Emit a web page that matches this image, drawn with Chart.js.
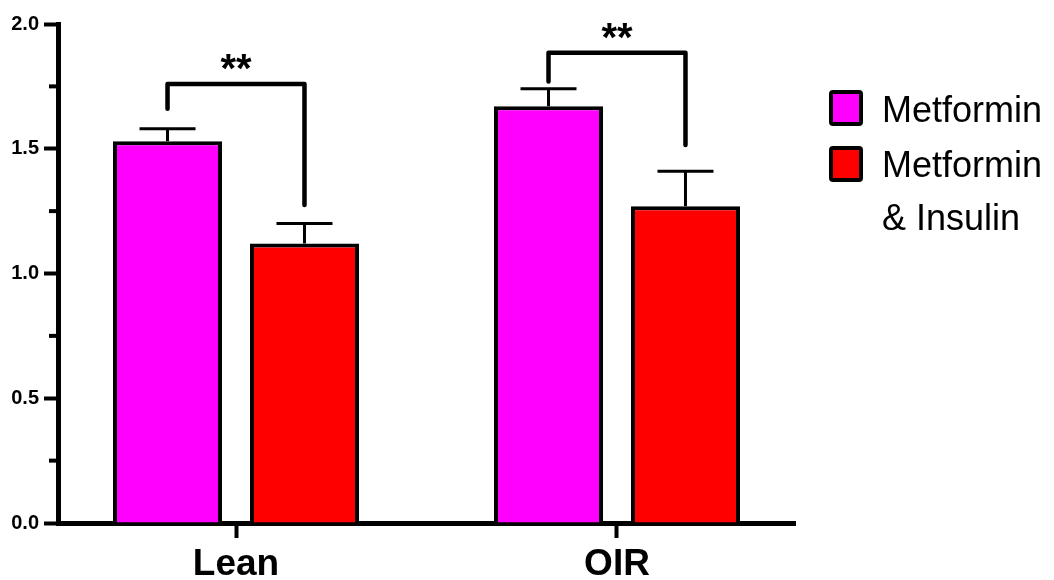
<!DOCTYPE html>
<html>
<head>
<meta charset="utf-8">
<script src="https://cdn.jsdelivr.net/npm/chart.js@4.4.1/dist/chart.umd.min.js"></script>
<style>
  html, body { margin: 0; padding: 0; background: #fff; }
  #wrap { width: 1054px; height: 580px; }
</style>
</head>
<body>
<div id="wrap"><canvas id="chart"></canvas></div>
<script>
const groups = ['Lean', 'OIR'];
const seriesNames = ['Metformin', 'Metformin\n& Insulin'];
const metformin = [1.53, 1.67];
const metforminInsulin = [1.12, 1.27];
const metforminErr = [0.05, 0.07];
const metforminInsulinErr = [0.08, 0.14];
const colors = ['#ff00ff', '#ff0000'];

// significance brackets, one per group (values in y units)
const bracketLeft = [1.66, 1.77];
const bracketTop = [1.76, 1.885];
const bracketRight = [1.275, 1.515];
const bracketText = ['**', '**'];

const yTicks = [0, 0.5, 1.0, 1.5, 2.0];

const font = '"Liberation Sans", Arial, sans-serif';
Chart.defaults.font.family = font;
Chart.defaults.color = '#000';

const errors = [metforminErr, metforminInsulinErr];

const extras = {
  id: 'extras',
  afterDatasetsDraw(chart) {
    const ctx = chart.ctx;
    const y = chart.scales.y;
    ctx.save();
    ctx.strokeStyle = '#000';
    // error bars
    ctx.lineWidth = 3;
    chart.data.datasets.forEach((ds, i) => {
      chart.getDatasetMeta(i).data.forEach((bar, j) => {
        const top = y.getPixelForValue(ds.data[j].y + errors[i][j]);
        ctx.beginPath();
        ctx.moveTo(bar.x, bar.y);
        ctx.lineTo(bar.x, top);
        ctx.moveTo(bar.x - 28, top);
        ctx.lineTo(bar.x + 28, top);
        ctx.stroke();
      });
    });
    // brackets
    ctx.lineWidth = 4.5;
    ctx.lineCap = 'round';
    ctx.lineJoin = 'round';
    groups.forEach((g, j) => {
      const a = chart.getDatasetMeta(0).data[j];
      const b = chart.getDatasetMeta(1).data[j];
      const t = y.getPixelForValue(bracketTop[j]);
      ctx.beginPath();
      ctx.moveTo(a.x, y.getPixelForValue(bracketLeft[j]));
      ctx.lineTo(a.x, t);
      ctx.lineTo(b.x, t);
      ctx.lineTo(b.x, y.getPixelForValue(bracketRight[j]));
      ctx.stroke();
      ctx.fillStyle = '#000';
      ctx.font = 'bold 40px ' + font;
      ctx.textAlign = 'center';
      ctx.textBaseline = 'alphabetic';
      ctx.fillText(bracketText[j], (a.x + b.x) / 2, t - 2);
    });
    ctx.restore();
  },
  afterDraw(chart) {
    const ctx = chart.ctx;
    const y = chart.scales.y;
    ctx.save();
    // minor ticks on y
    ctx.strokeStyle = '#000';
    ctx.lineWidth = 4;
    y.ticks.forEach(t => {
      if (yTicks.indexOf(t.value) === -1) {
        const py = y.getPixelForValue(t.value);
        ctx.beginPath();
        ctx.moveTo(chart.chartArea.left - 9, py);
        ctx.lineTo(chart.chartArea.left, py);
        ctx.stroke();
      }
    });
    // legend
    ctx.font = '36px ' + font;
    ctx.textAlign = 'left';
    ctx.textBaseline = 'middle';
    seriesNames.forEach((name, i) => {
      const sy = 92 + i * 56;
      ctx.fillStyle = colors[i];
      ctx.lineWidth = 4;
      ctx.beginPath();
      ctx.roundRect(831, sy, 30, 32, 2);
      ctx.fill();
      ctx.stroke();
      ctx.fillStyle = '#000';
      name.split('\n').forEach((line, k) => {
        ctx.fillText(line, 882, 112.5 + i * 55 + k * 52.5);
      });
    });
    ctx.restore();
  }
};

new Chart(document.getElementById('chart'), {
  type: 'bar',
  data: {
    datasets: [
      { label: seriesNames[0], data: metformin.map((v, i) => ({ x: i, y: v })), backgroundColor: colors[0] },
      { label: seriesNames[1], data: metforminInsulin.map((v, i) => ({ x: i, y: v })), backgroundColor: colors[1] }
    ]
  },
  options: {
    responsive: true,
    maintainAspectRatio: false,
    animation: false,
    categoryPercentage: 0.719,
    barPercentage: 0.796,
    borderColor: '#000',
    borderWidth: 4,
    layout: { padding: { top: 24, right: 259, bottom: 0, left: 0 } },
    plugins: { legend: { display: false }, tooltip: { enabled: false } },
    scales: {
      x: {
        type: 'linear',
        offset: false,
        min: -0.4672,
        max: 1.4672,
        afterBuildTicks: s => { s.ticks = groups.map((g, i) => ({ value: i })); },
        afterFit: s => { s.height = 57; },
        ticks: {
          callback: v => groups[v],
          font: { size: 37, weight: 'bold' },
          color: '#000',
          padding: 5,
          maxRotation: 0
        },
        grid: { offset: false, drawOnChartArea: false, drawTicks: true, tickLength: 15, tickWidth: 4, tickColor: '#000' },
        border: { display: true, width: 5, color: '#000' }
      },
      y: {
        min: 0,
        max: 2,
        ticks: {
          stepSize: 0.25,
          callback: v => (yTicks.indexOf(v) !== -1 ? v.toFixed(1) : ''),
          font: { size: 20, weight: 'bold' },
          color: '#000',
          padding: 5
        },
        afterFit: s => { s.width = 58; },
        grid: {
          drawOnChartArea: false,
          drawTicks: true,
          tickLength: 14,
          tickWidth: 4,
          tickColor: c => (yTicks.indexOf(c.tick.value) !== -1 ? '#000' : 'rgba(0,0,0,0)')
        },
        border: { display: true, width: 5, color: '#000' }
      }
    }
  },
  plugins: [extras]
});
</script>
</body>
</html>
